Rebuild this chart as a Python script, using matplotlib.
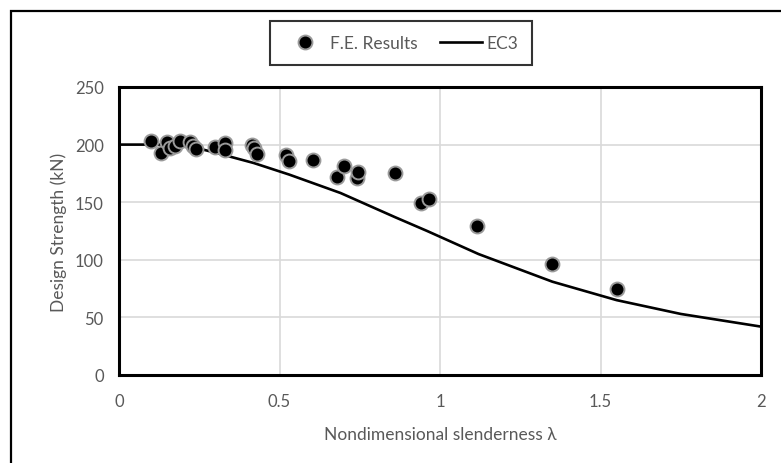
import numpy as np
import matplotlib
matplotlib.use("Agg")
import matplotlib.pyplot as plt
from matplotlib.patches import Rectangle

plt.rcParams['font.family'] = ['Lato', 'DejaVu Sans']

# F.E. results
fe_lambda = [0.10, 0.13, 0.15, 0.16, 0.175, 0.19, 0.22, 0.23, 0.24, 0.30, 0.33, 0.33,
             0.415, 0.42, 0.43, 0.52, 0.53, 0.605, 0.68, 0.70, 0.74, 0.745, 0.86,
             0.94, 0.965, 1.115, 1.35, 1.55]
fe_strength = [203, 193, 202, 197, 199, 203, 202, 199, 196, 198, 201, 195,
               200, 197, 192, 191, 186, 187, 172, 181, 171, 176, 175,
               149, 153, 129, 96, 75]

# EC3 design curve
ec3_lambda = [0.0, 0.2, 0.3, 0.42, 0.53, 0.69, 0.86, 0.96, 1.12, 1.35, 1.55, 1.75, 2.0]
ec3_strength = [200, 200, 193, 184, 174, 158, 137, 125, 105, 81, 65, 53, 42]

xticks = [0, 0.5, 1, 1.5, 2]
xticklabels = ['0', '0.5', '1', '1.5', '2']
yticks = [0, 50, 100, 150, 200, 250]

grey = '#595959'

fig = plt.figure(figsize=(7.81, 4.64), dpi=100)
ax = fig.add_axes([119/781, 1-376/464, (761-119)/781, (376-88)/464])

ax.plot(fe_lambda, fe_strength, linestyle='none', marker='o', markersize=10,
        markerfacecolor='black', markeredgecolor='#9a9a9a', markeredgewidth=1.4,
        label='F.E. Results', zorder=4)
ax.plot(ec3_lambda, ec3_strength, color='black', linewidth=1.9, label='EC3', zorder=3)

ax.set_xlim(0, 2)
ax.set_ylim(0, 250)
ax.set_xticks(xticks)
ax.set_xticklabels(xticklabels)
ax.set_yticks(yticks)
ax.grid(True, color='#d9d9d9', linewidth=1.2)
ax.set_axisbelow(True)
ax.tick_params(length=0, labelsize=12, labelcolor=grey, pad=11)
ax.tick_params(axis='x', pad=13)
for s in ax.spines.values():
    s.set_linewidth(2.2)
    s.set_color('black')

ax.set_xlabel('Nondimensional slenderness λ', fontsize=12.5, color=grey, labelpad=12)
ax.set_ylabel('Design Strength (kN)', fontsize=12.5, color=grey, labelpad=6)

leg = fig.legend(loc='center', bbox_to_anchor=((259+543)/2/781, 1-44/464), ncol=2,
                 fontsize=12.5, frameon=True, fancybox=False, handlelength=2.4,
                 columnspacing=1.3, handletextpad=0.25, borderpad=0.8)
leg.get_frame().set_edgecolor('black')
leg.get_frame().set_linewidth(1.5)
for t in leg.get_texts():
    t.set_color(grey)

# outer chart border
fig.patches.append(Rectangle((11/781, -0.1), 1.2, 1-12/464+0.1, transform=fig.transFigure,
                             fill=False, edgecolor='black', linewidth=1.6))

fig.savefig('out.png', dpi=100)
